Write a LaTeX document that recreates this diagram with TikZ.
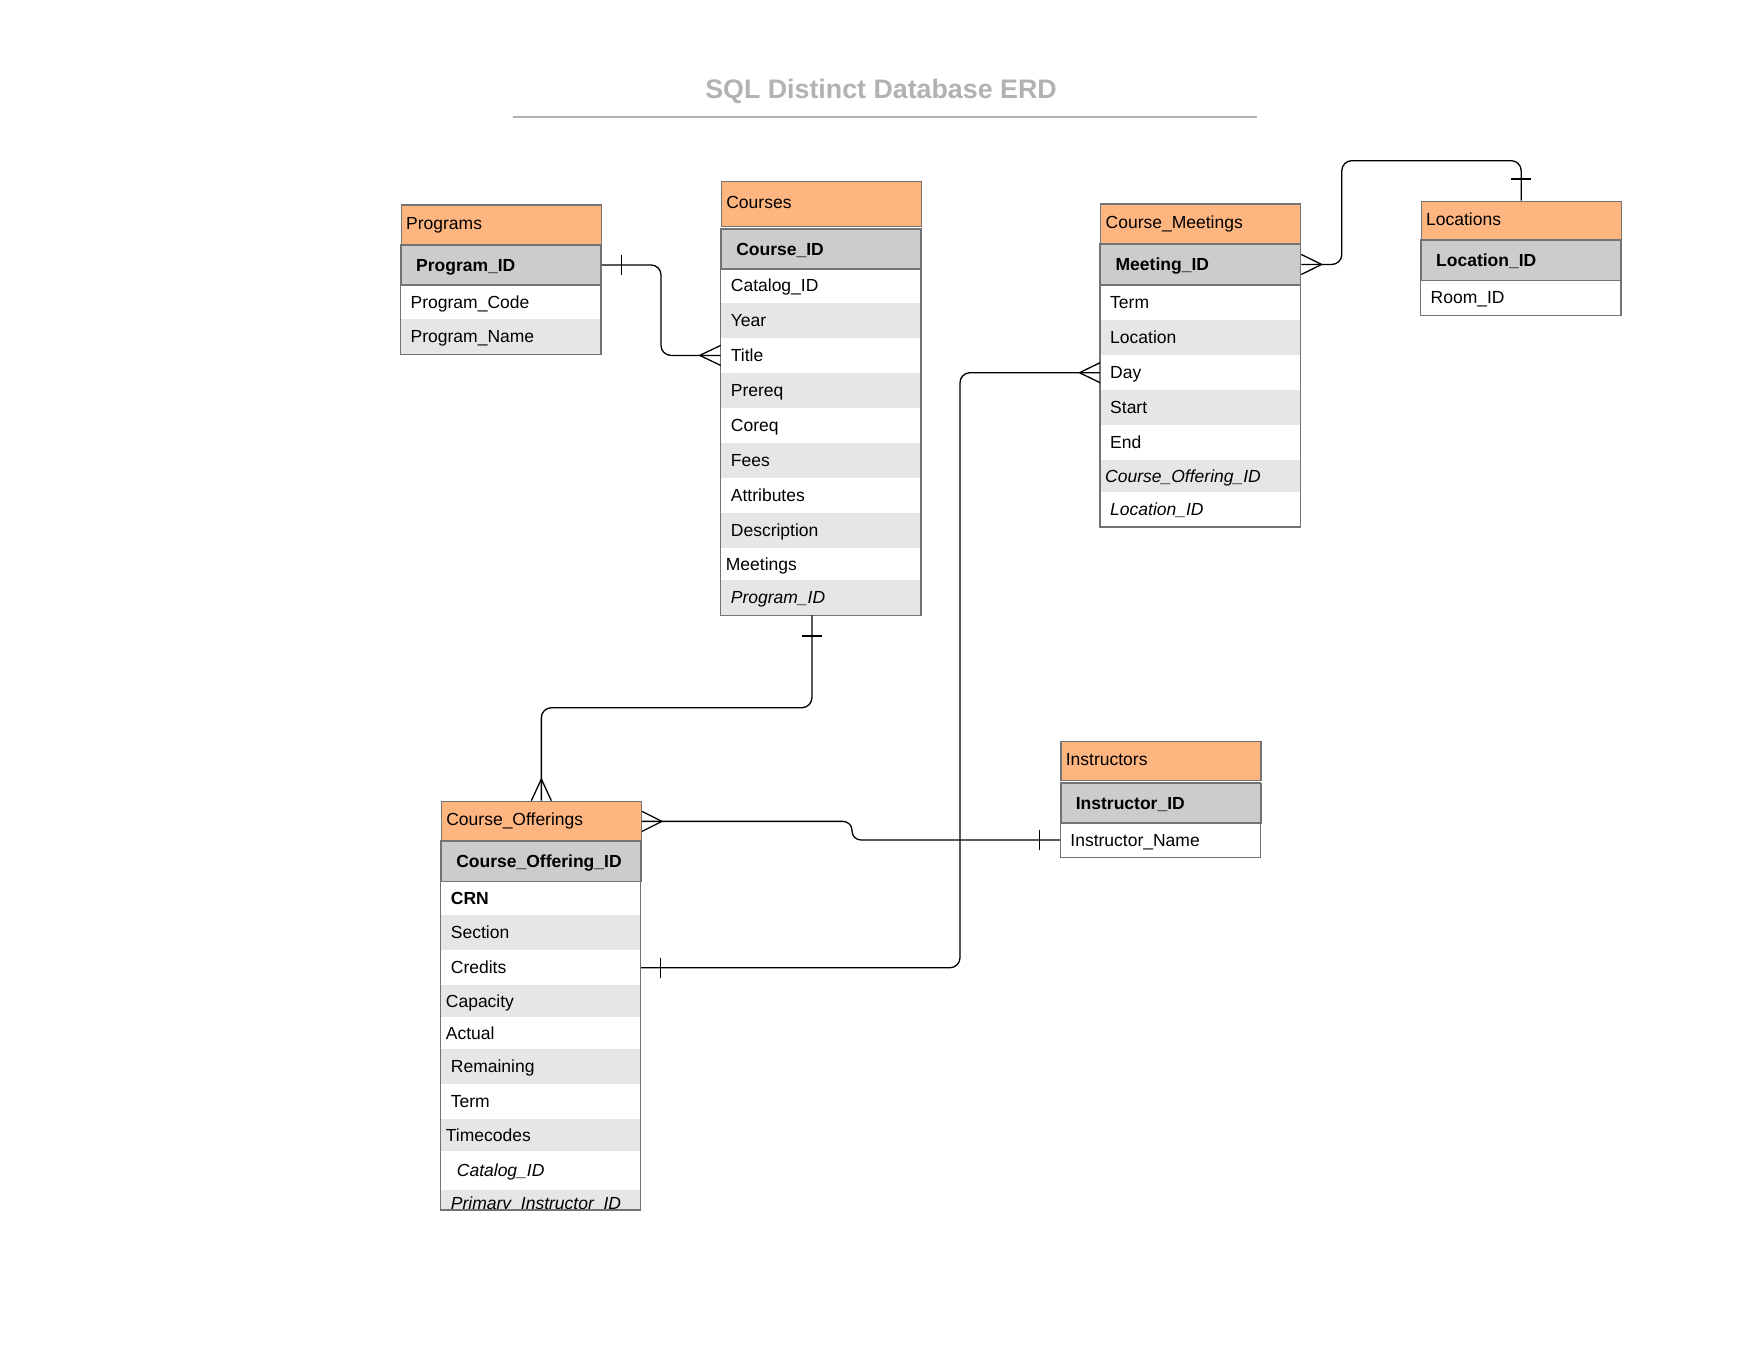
\documentclass[tikz,border=0pt]{standalone}
\usepackage{fontspec}
\setmainfont{Liberation Sans}
\definecolor{hdrorange}{RGB}{255,181,128}
\definecolor{pkgray}{RGB}{204,204,204}
\definecolor{rowgray}{RGB}{230,230,230}
\definecolor{tblgray}{RGB}{115,115,115}
\definecolor{titlegray}{RGB}{178,178,178}
\newcommand{\fieldfont}{\fontsize{17.5}{21}\selectfont}
\begin{document}
\begin{tikzpicture}[x=1pt, y=-1pt,
    fld/.style={anchor=north west, minimum width=200pt, inner ysep=0pt, inner xsep=10pt, text width=180pt, align=left, text height=12.5pt, text depth=0pt, font=\fieldfont},
    ind5/.style={inner xsep=5pt, text width=190pt},
    grayrow/.style={fill=rowgray},
    fk/.style={font=\fieldfont\itshape},
    bold/.style={font=\fieldfont\bfseries},
    hdr/.style={fld, ind5, fill=hdrorange, draw=tblgray, line width=1.3pt, text height=8.5pt},
    pk/.style={fld, fill=pkgray, draw=tblgray, line width=1.3pt, font=\fieldfont\bfseries, inner xsep=15pt, text width=170pt},
    tline/.style={draw=tblgray, line width=1.3pt},
    conn/.style={line width=1.3pt, rounded corners=10pt},
    foot/.style={line width=1.3pt}]

    \useasboundingbox (0,0) rectangle (1758,1358);

    \node[font=\fontsize{26.8}{32}\selectfont\bfseries, text=titlegray, anchor=base] (title) at (881,98.3) {SQL Distinct Database ERD};
    \draw[titlegray, line width=2pt] (512.5,116.7) -- (1257,116.7);

    % Programs
    \node[hdr, minimum height=40pt] (p-head) at (400.5,204.3) {Programs};
    \node[pk, minimum height=40pt] (p-pk) at (400.5,244.3) {Program\_ID};
    \node[fld, minimum height=34.7pt] (p-code) at (400.5,284.3) {Program\_Code};
    \node[fld, grayrow, minimum height=35pt] (p-name) at (400.5,319) {Program\_Name};
    \draw[tline] (p-pk.north west) rectangle (p-name.south east);

    % Courses
    \node[hdr, minimum height=45.3pt] (c-head) at (720.7,180.7) {Courses};
    \node[fld, minimum height=34.4pt] (c-cat) at (720.7,268.3) {Catalog\_ID};
    \node[fld, grayrow, minimum height=35pt] (c-year) at (720.7,302.7) {Year};
    \node[fld, minimum height=35pt] (c-title) at (720.7,337.7) {Title};
    \node[fld, grayrow, minimum height=35.3pt] (c-prereq) at (720.7,372.7) {Prereq};
    \node[fld, minimum height=35pt] (c-coreq) at (720.7,408) {Coreq};
    \node[fld, grayrow, minimum height=35pt] (c-fees) at (720.7,443) {Fees};
    \node[fld, minimum height=35pt] (c-attr) at (720.7,478) {Attributes};
    \node[fld, grayrow, minimum height=35pt] (c-desc) at (720.7,513) {Description};
    \node[fld, ind5, minimum height=32pt] (c-meet) at (720.7,548) {Meetings};
    \node[fld, grayrow, fk, minimum height=35pt] (c-prog) at (720.7,580) {Program\_ID};
    \node[pk, minimum height=39.6pt] (c-pk) at (720.7,228.7) {Course\_ID};
    \draw[tline] (c-pk.north west) rectangle (c-prog.south east);

    % Course_Meetings
    \node[hdr, minimum height=40pt] (cm-head) at (1100,203.3) {Course\_Meetings};
    \node[fld, minimum height=35.7pt] (cm-term) at (1100,284.3) {Term};
    \node[fld, grayrow, minimum height=35pt] (cm-loc) at (1100,320) {Location};
    \node[fld, minimum height=35pt] (cm-day) at (1100,355) {Day};
    \node[fld, grayrow, minimum height=35pt] (cm-start) at (1100,390) {Start};
    \node[fld, minimum height=35pt] (cm-end) at (1100,425) {End};
    \node[fld, ind5, grayrow, fk, minimum height=31.7pt] (cm-coid) at (1100,460) {Course\_Offering\_ID};
    \node[fld, fk, minimum height=35pt] (cm-locid) at (1100,491.7) {Location\_ID};
    \node[pk, minimum height=41pt] (cm-pk) at (1100,243.3) {Meeting\_ID};
    \draw[tline] (cm-pk.north west) rectangle (cm-locid.south east);

    % Locations
    \node[hdr, minimum height=39.3pt] (l-head) at (1420.5,200.7) {Locations};
    \node[fld, minimum height=35pt] (l-room) at (1420.5,280) {Room\_ID};
    \node[pk, minimum height=40pt] (l-pk) at (1420.5,240) {Location\_ID};
    \draw[tline] (l-pk.north west) rectangle (l-room.south east);

    % Instructors
    \node[hdr, minimum height=39.3pt] (i-head) at (1060.2,740.7) {Instructors};
    \node[fld, minimum height=35pt] (i-name) at (1060.2,822.3) {Instructor\_Name};
    \node[pk, minimum height=39.6pt] (i-pk) at (1060.2,782.7) {Instructor\_ID};
    \draw[tline] (i-pk.north west) rectangle (i-name.south east);

    % Course_Offerings
    \node[hdr, minimum height=40pt] (co-head) at (440.7,800.7) {Course\_Offerings};
    \node[fld, bold, minimum height=34.3pt] (co-crn) at (440.7,880.7) {CRN};
    \node[fld, grayrow, minimum height=35pt] (co-sect) at (440.7,915) {Section};
    \node[fld, minimum height=35pt] (co-cred) at (440.7,950) {Credits};
    \node[fld, ind5, grayrow, minimum height=32pt] (co-cap) at (440.7,985) {Capacity};
    \node[fld, ind5, minimum height=32pt] (co-act) at (440.7,1017) {Actual};
    \node[fld, grayrow, minimum height=35pt] (co-rem) at (440.7,1049) {Remaining};
    \node[fld, minimum height=35pt] (co-term) at (440.7,1084) {Term};
    \node[fld, ind5, grayrow, minimum height=32pt] (co-time) at (440.7,1119) {Timecodes};
    \node[fld, fk, inner xsep=16pt, text width=168pt, minimum height=39pt] (co-cat) at (440.7,1151) {Catalog\_ID};
    \begin{scope}
        \clip (440.7,1190) rectangle (640.7,1210);
        \node[fld, grayrow, fk, minimum height=26pt] (co-prim) at (440.7,1190) {Primary\_Instructor\_ID};
    \end{scope}
    \coordinate (co-end) at (640.7,1210);
    \node[pk, minimum height=40pt] (co-pk) at (440.7,840.7) {Course\_Offering\_ID};
    \draw[tline] (co-pk.north west) rectangle (co-end);

    % Programs -> Courses
    \draw[conn] (p-pk.east) -- ++(59.2,0) |- (c-title.west);
    \draw[foot] ([xshift=19.5pt,yshift=10pt]p-pk.east) -- ++(0,20);
    \draw[foot] ([xshift=-21pt]c-title.west) -- ([yshift=10pt]c-title.west)
        ([xshift=-21pt]c-title.west) -- ([yshift=-10pt]c-title.west);

    % Courses -> Course_Offerings
    \draw[conn] ([xshift=-9pt]c-prog.south) -- ++(0,92.3) -| (co-head.north);
    \draw[foot] ([xshift=-19pt,yshift=-20.7pt]c-prog.south) -- ++(20,0);
    \draw[foot] ([yshift=21.7pt]co-head.north) -- ([xshift=-10pt]co-head.north)
        ([yshift=21.7pt]co-head.north) -- ([xshift=10pt]co-head.north);

    % Course_Meetings -> Locations
    \draw[conn] (cm-pk.east) -- ++(40.5,0) -- ++(0,-103.8) -| (l-head.north);
    \draw[foot] ([xshift=20.3pt]cm-pk.east) -- ([yshift=10pt]cm-pk.east)
        ([xshift=20.3pt]cm-pk.east) -- ([yshift=-10pt]cm-pk.east);
    \draw[foot] ([xshift=-10pt,yshift=21.7pt]l-head.north) -- ++(20,0);

    % Course_Offerings -> Course_Meetings
    \draw[conn] (co-cred.east) -| ([xshift=-140pt]cm-day.west) -- (cm-day.west);
    \draw[foot] ([xshift=19.7pt,yshift=10pt]co-cred.east) -- ++(0,20);
    \draw[foot] ([xshift=-20.5pt]cm-day.west) -- ([yshift=10pt]cm-day.west)
        ([xshift=-20.5pt]cm-day.west) -- ([yshift=-10pt]cm-day.west);

    % Course_Offerings -> Instructors
    \draw[conn, rounded corners=9pt] (co-head.east) -- ++(210,0) |- (i-name.west);
    \draw[foot] ([xshift=20pt]co-head.east) -- ([yshift=10pt]co-head.east)
        ([xshift=20pt]co-head.east) -- ([yshift=-10pt]co-head.east);
    \draw[foot] ([xshift=-21pt,yshift=10pt]i-name.west) -- ++(0,20);

\end{tikzpicture}
\end{document}
